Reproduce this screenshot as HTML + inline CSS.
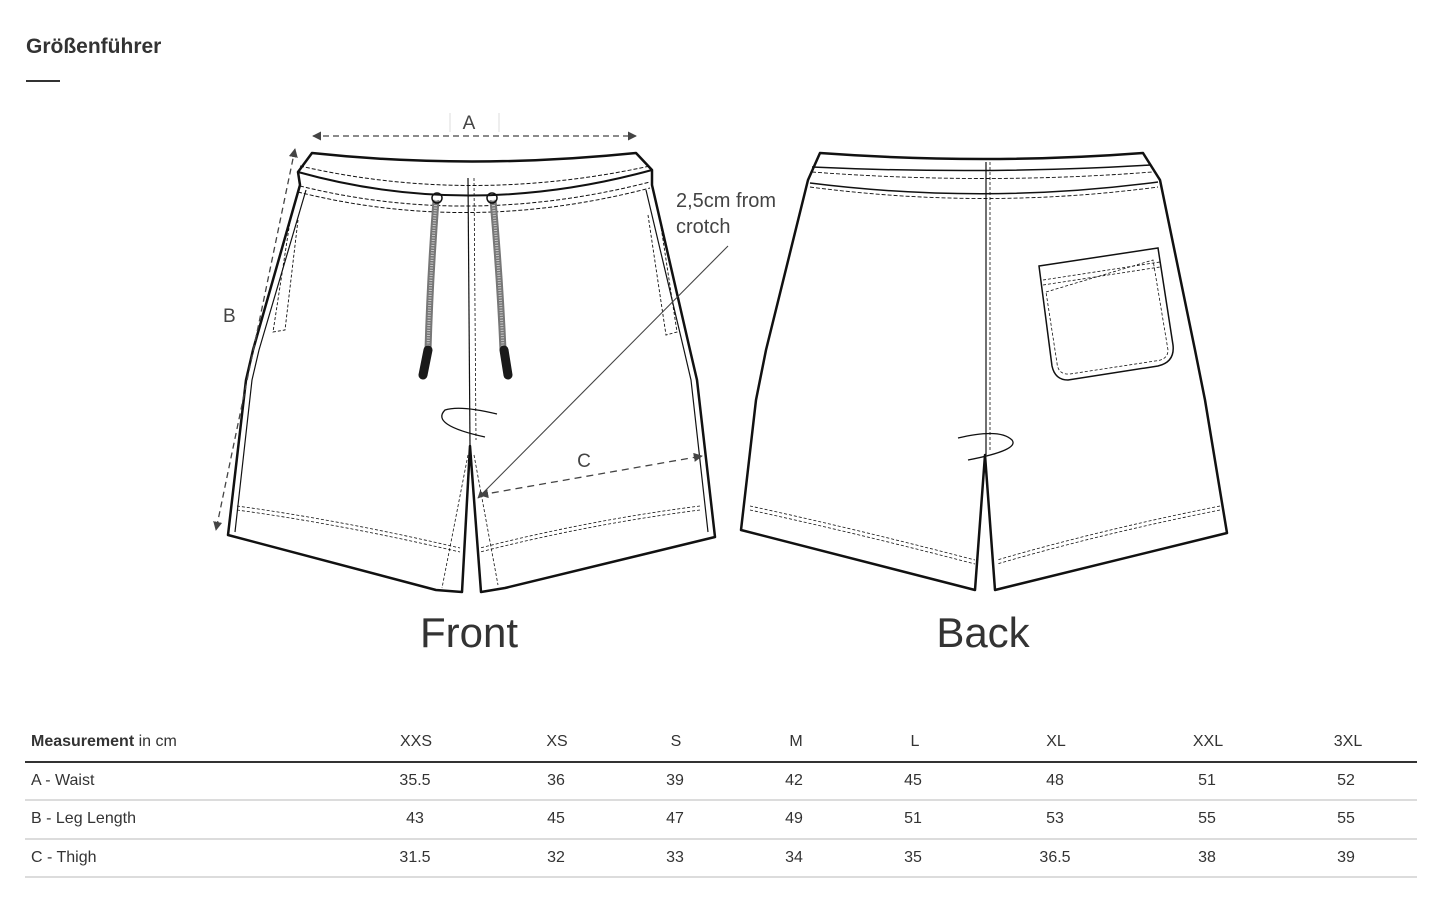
<!DOCTYPE html>
<html><head><meta charset="utf-8"><style>
body{margin:0;width:1454px;height:920px;background:#fff;font-family:"Liberation Sans",sans-serif;color:#333;position:relative;overflow:hidden}
.t{position:absolute;white-space:nowrap}
.c{transform:translateX(-50%)}
.row{position:absolute;left:25px;width:1392px;height:2px;background:#dcdcdc}
</style></head><body>
<div class="t" style="left:26px;top:35px;font-size:21px;font-weight:bold;color:#333">Größenführer</div>
<div style="position:absolute;left:26px;top:80px;width:34px;height:2px;background:#333"></div>

<svg width="1454" height="920" style="position:absolute;left:0;top:0" fill="none" stroke="#111">
<defs><marker id="ar" viewBox="0 0 10 10" refX="9" refY="5" markerWidth="7" markerHeight="7" orient="auto-start-reverse"><path d="M0,0L10,5L0,10z" fill="#444" stroke="none"/></marker></defs>
<!-- FRONT -->
<path d="M312,153 Q470,170 636,153 L652,170 L652,185 L690,350 L697,380 L715,537 L505,588 L481,592 L470,446 L462,592 L436,590 L228,535 L246,380 L253,350 L300,185 L298,172 Z" stroke-width="2.5" stroke-linejoin="round"/>
<path d="M298,172 Q470,220 652,170" stroke-width="2"/>
<path d="M306,190 L259,350 L252,380 L235,532 M646,190 L684,350 L691,380 L708,532" stroke-width="1.2"/>
<path d="M300,166 Q470,205 650,166 M300,186 Q470,228 650,182 M298,192 Q470,235 650,188" stroke-dasharray="4,2" stroke-width="1"/>
<path d="M468,178 L470,446" stroke-width="1.2"/>
<path d="M474,178 L476,440" stroke-dasharray="3,2" stroke-width="0.8"/>
<path d="M298,220 L285,330 L273,332 L291,215 M648,215 L666,335 L677,332 L660,220" stroke-dasharray="3,2" stroke-width="0.9"/>
<path d="M237,506 Q340,520 460,548 M700,506 Q590,520 480,548 M237,510 Q340,524 460,552 M700,510 Q590,524 480,552" stroke-dasharray="3,2" stroke-width="0.8"/>
<path d="M468,455 L442,588 M474,455 L498,585" stroke-dasharray="3,2" stroke-width="0.8"/>
<path d="M497,414 Q460,405 445,410 Q430,425 485,437" stroke-width="1.3"/>
<path d="M436,200 Q430,280 428,350 M493,200 Q500,280 503,350" stroke="#777" stroke-width="7"/>
<path d="M436,200 Q430,280 428,350 M493,200 Q500,280 503,350" stroke="#ccc" stroke-width="3" stroke-dasharray="1,1.5"/>
<circle cx="437" cy="198" r="5" stroke-width="1.5"/><circle cx="492" cy="198" r="5" stroke-width="1.5"/>
<path d="M428,350 L423,375 M504,350 L508,375" stroke="#1a1a1a" stroke-width="9" stroke-linecap="round"/>
<!-- dims -->
<line x1="313" y1="136" x2="636" y2="136" stroke="#444" stroke-width="1.3" stroke-dasharray="6,4" marker-start="url(#ar)" marker-end="url(#ar)"/>
<path d="M450,113 V132 M499,113 V132" stroke="#ddd" stroke-width="1"/>
<line x1="295" y1="149" x2="216" y2="530" stroke="#444" stroke-width="1.3" stroke-dasharray="6,4" marker-start="url(#ar)" marker-end="url(#ar)"/>
<line x1="480" y1="495" x2="702" y2="456" stroke="#444" stroke-width="1.3" stroke-dasharray="7,5" marker-start="url(#ar)" marker-end="url(#ar)"/>
<line x1="728" y1="246" x2="478" y2="498" stroke="#444" stroke-width="1.1" marker-end="url(#ar)"/>
<!-- BACK -->
<path d="M820,153 Q985,165 1143,153 L1160,180 L1195,350 L1205,400 L1227,533 L995,590 L985,455 L975,590 L741,530 L756,400 L766,350 L808,180 Z" stroke-width="2.5" stroke-linejoin="round"/>
<path d="M812,167 Q985,175 1150,165 M810,183 Q985,205 1158,182" stroke-width="1.5"/>
<path d="M812,172 Q985,185 1152,172 M810,187 Q985,210 1158,187" stroke-dasharray="4,2" stroke-width="0.9"/>
<path d="M986,162 L986,455" stroke-width="1.2"/>
<path d="M990,162 L990,450" stroke-dasharray="3,2" stroke-width="0.8"/>
<path d="M1039,266 L1158,248 L1173,345 Q1175,362 1158,366 L1068,380 Q1055,380 1052,366 Z" stroke-width="1.5"/>
<path d="M1043,280 L1160,262 M1043,285 L1160,267 M1046,292 L1153,260 L1168,350 Q1168,360 1155,361 L1070,374 Q1058,375 1057,363 L1046,292" stroke-dasharray="3,2" stroke-width="0.8"/>
<path d="M968,460 Q1020,450 1012,440 Q1000,428 958,438" stroke-width="1.3"/>
<path d="M750,506 Q860,530 975,560 M750,510 Q860,534 975,564 M1220,506 Q1100,530 997,560 M1220,510 Q1100,534 997,564" stroke-dasharray="3,2" stroke-width="0.8"/>
</svg>

<div class="t c" style="left:469px;top:113px;font-size:19px;color:#444">A</div>
<div class="t" style="left:223px;top:306px;font-size:19px;color:#444">B</div>
<div class="t c" style="left:584px;top:451px;font-size:19px;color:#444">C</div>
<div class="t" style="left:676px;top:188px;font-size:20px;line-height:26px;color:#444">2,5cm from<br>crotch</div>
<div class="t c" style="left:469px;top:609px;font-size:42px;color:#333">Front</div>
<div class="t c" style="left:983px;top:609px;font-size:42px;color:#333">Back</div>

<div style="position:absolute;left:0;top:3px;width:1454px;height:900px;font-size:16px">
<div class="t" style="left:31px;top:730px"><b>Measurement</b> in cm</div>
<div class="t" style="left:31px;top:769px">A - Waist</div>
<div class="t" style="left:31px;top:807px">B - Leg Length</div>
<div class="t" style="left:31px;top:846px">C - Thigh</div>
<div class="t c" style="left:416px;top:730px">XXS</div><div class="t c" style="left:415px;top:769px">35.5</div><div class="t c" style="left:415px;top:807px">43</div><div class="t c" style="left:415px;top:846px">31.5</div>
<div class="t c" style="left:557px;top:730px">XS</div><div class="t c" style="left:556px;top:769px">36</div><div class="t c" style="left:556px;top:807px">45</div><div class="t c" style="left:556px;top:846px">32</div>
<div class="t c" style="left:676px;top:730px">S</div><div class="t c" style="left:675px;top:769px">39</div><div class="t c" style="left:675px;top:807px">47</div><div class="t c" style="left:675px;top:846px">33</div>
<div class="t c" style="left:796px;top:730px">M</div><div class="t c" style="left:794px;top:769px">42</div><div class="t c" style="left:794px;top:807px">49</div><div class="t c" style="left:794px;top:846px">34</div>
<div class="t c" style="left:915px;top:730px">L</div><div class="t c" style="left:913px;top:769px">45</div><div class="t c" style="left:913px;top:807px">51</div><div class="t c" style="left:913px;top:846px">35</div>
<div class="t c" style="left:1056px;top:730px">XL</div><div class="t c" style="left:1055px;top:769px">48</div><div class="t c" style="left:1055px;top:807px">53</div><div class="t c" style="left:1055px;top:846px">36.5</div>
<div class="t c" style="left:1208px;top:730px">XXL</div><div class="t c" style="left:1207px;top:769px">51</div><div class="t c" style="left:1207px;top:807px">55</div><div class="t c" style="left:1207px;top:846px">38</div>
<div class="t c" style="left:1348px;top:730px">3XL</div><div class="t c" style="left:1346px;top:769px">52</div><div class="t c" style="left:1346px;top:807px">55</div><div class="t c" style="left:1346px;top:846px">39</div>
</div>
<div style="position:absolute;left:25px;top:761px;width:1392px;height:2px;background:#333"></div>
<div class="row" style="top:799px"></div><div class="row" style="top:838px"></div><div class="row" style="top:876px"></div>
</body></html>
